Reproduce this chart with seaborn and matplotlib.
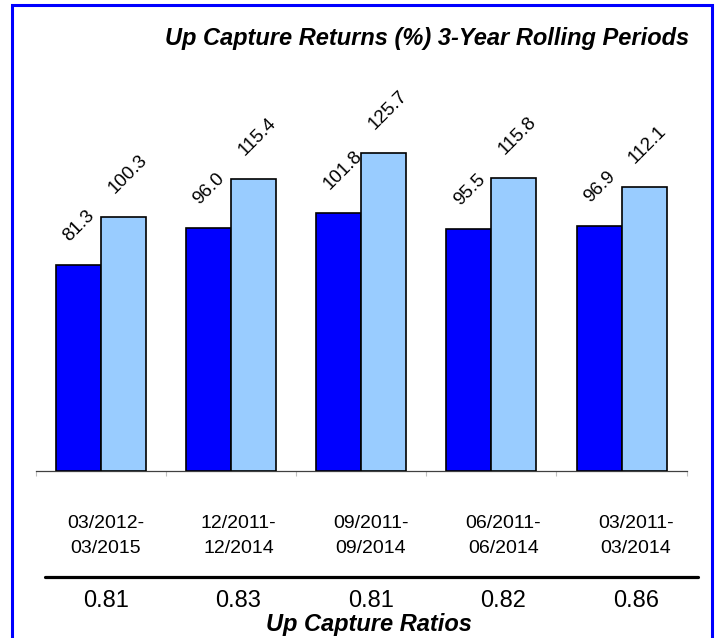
import matplotlib
matplotlib.use("Agg")
import matplotlib.pyplot as plt
import matplotlib.patches as mpatches
import seaborn as sns
import pandas as pd

# Rolling three-year periods and their up-capture figures
periods = ["03/2012-\n03/2015", "12/2011-\n12/2014", "09/2011-\n09/2014",
           "06/2011-\n06/2014", "03/2011-\n03/2014"]
portfolio_returns = [81.3, 96.0, 101.8, 95.5, 96.9]
benchmark_returns = [100.3, 115.4, 125.7, 115.8, 112.1]
capture_ratios = ["0.81", "0.83", "0.81", "0.82", "0.86"]
series_names = ["Portfolio", "Benchmark"]
series_colors = ["#0000FF", "#99CCFF"]

title_text = "Up Capture Returns (%) 3-Year Rolling Periods"
ratio_title = "Up Capture Ratios"

df = pd.DataFrame({
    "period": periods * 2,
    "series": [series_names[0]] * len(periods) + [series_names[1]] * len(periods),
    "value": portfolio_returns + benchmark_returns,
})

sns.set_theme(style="white")
plt.rcParams["font.family"] = ["Liberation Sans", "DejaVu Sans"]
plt.rcParams["text.color"] = "black"

W, H, DPI = 727, 638, 100
fig = plt.figure(figsize=(W / DPI, H / DPI), dpi=DPI)
fig.patch.set_facecolor("white")

# Bar chart area
ax = fig.add_axes([35.7 / W, 1 - 470.5 / H, 651 / W, 379.2 / H])
sns.barplot(data=df, x="period", y="value", hue="series", hue_order=series_names,
            palette=series_colors, width=0.692, gap=0, edgecolor="black",
            linewidth=1.2, saturation=1, legend=False, ax=ax, zorder=3)
ax.set_ylim(0, 150)
ax.set_xlim(-0.5, len(periods) - 0.5)
ax.set_xlabel("")
ax.set_ylabel("")
ax.set_yticks([])
ax.set_xticks([i - 0.5 for i in range(len(periods) + 1)])
ax.set_xticklabels([])
ax.tick_params(axis="x", bottom=True, length=3.5, width=0.8, color="#C0C0C0",
               direction="out")
for side in ("top", "left", "right"):
    ax.spines[side].set_visible(False)
ax.spines["bottom"].set_color("#404040")
ax.spines["bottom"].set_linewidth(0.9)
ax.set_facecolor("none")

# Rotated value labels above each bar
for container, values in zip(ax.containers, [portfolio_returns, benchmark_returns]):
    for patch, v in zip(container.patches, values):
        ax.annotate(f"{v:.1f}", xy=(patch.get_x(), patch.get_height()),
                    xytext=(3, 14.5), textcoords="offset points",
                    rotation=45, ha="left", va="bottom", fontsize=13.5,
                    color="black")

# Period labels and capture ratios laid out in columns beneath the chart
tab = fig.add_axes([39.75 / W, 0, 662.5 / W, 1], zorder=-1)
tab.set_xlim(-0.5, len(periods) - 0.5)
tab.set_ylim(H, 0)
tab.axis("off")
for i, (p, r) in enumerate(zip(periods, capture_ratios)):
    first, second = p.split("\n")
    tab.text(i, 528, first, ha="center", va="baseline", fontsize=14, color="black")
    tab.text(i, 553, second, ha="center", va="baseline", fontsize=14, color="black")
    tab.text(i, 607, r, ha="center", va="baseline", fontsize=17, color="black")
tab.axhline(577, xmin=(45 - 39.75) / 662.5, xmax=(698 - 39.75) / 662.5,
            color="black", linewidth=2.3)

fig.text(369 / W, 1 - 631 / H, ratio_title, ha="center", va="baseline",
         fontsize=17, fontweight="bold", fontstyle="italic", color="black")
fig.text(689 / W, 1 - 45 / H, title_text, ha="right", va="baseline",
         fontsize=17, fontweight="bold", fontstyle="italic", color="black")

# Blue frame around the panel
frame = mpatches.Rectangle((11.5 / W, -0.02), 700 / W, 1.02 - 4.5 / H,
                           transform=fig.transFigure, fill=False,
                           edgecolor="#0000FF", linewidth=2.2, zorder=10)
fig.patches.append(frame)

fig.savefig("out.png", dpi=DPI, facecolor="white")
